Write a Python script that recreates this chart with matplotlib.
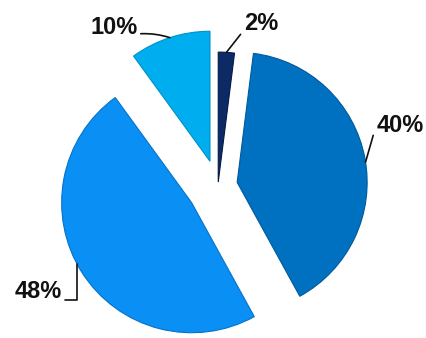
import numpy as np
import matplotlib.pyplot as plt

# slice data (clockwise from 12 o'clock)
labels = ['2%', '40%', '48%', '10%']
values = [2, 40, 48, 10]
colors = ['#0B2A66', '#0070C0', '#0A8FF5', '#00ADEF']
edge_colors = ['#061A45', '#005A9C', '#0672C8', '#0090C8']
explode = [0.03, 0.15, 0.24, 0.2]

# where each leader line touches its wedge (degrees) and where the label sits
anchor_deg = [86.4, 9, 208, 108]
text_pos = [(244 / 426, 1 - 24 / 338), (377 / 426, 1 - 125 / 338),
            (62 / 426, 1 - 291 / 338), (138 / 426, 1 - 27 / 338)]
text_ha = ['left', 'left', 'right', 'right']
relpos = [(-0.1, 0.05), (-0.08, 0.05), (1, 0.12), (1, 0.2)]
conn = ['arc3', 'arc3', 'angle,angleA=0,angleB=90,rad=0', 'arc3,rad=-0.1']

fig = plt.figure(figsize=(4.26, 3.38), dpi=100)
ax = fig.add_axes([0, 0, 1, 1])

wedges, _ = ax.pie(values, colors=colors, explode=explode, startangle=90,
                   counterclock=False, radius=1,
                   wedgeprops=dict(linewidth=0.8))
for w, ec in zip(wedges, edge_colors):
    w.set_edgecolor(ec)

ax.set_xlim(-218 / 130, 208 / 130)
ax.set_ylim(-152 / 130, 186 / 130)
ax.set_aspect('equal')
ax.axis('off')

for w, lab, a, tp, ha, rp, cs in zip(wedges, labels, anchor_deg, text_pos,
                                     text_ha, relpos, conn):
    cx, cy = w.center
    xy = (cx + w.r * np.cos(np.radians(a)), cy + w.r * np.sin(np.radians(a)))
    ax.annotate(lab, xy=xy, xytext=tp, textcoords='axes fraction',
                ha=ha, va='center', fontsize=17, fontweight='bold',
                family='Liberation Sans', color='#111111',
                arrowprops=dict(arrowstyle='-', color='#111111', lw=1.2,
                                relpos=rp, connectionstyle=cs,
                                shrinkA=0, shrinkB=0))

plt.savefig('out.png', dpi=100)
